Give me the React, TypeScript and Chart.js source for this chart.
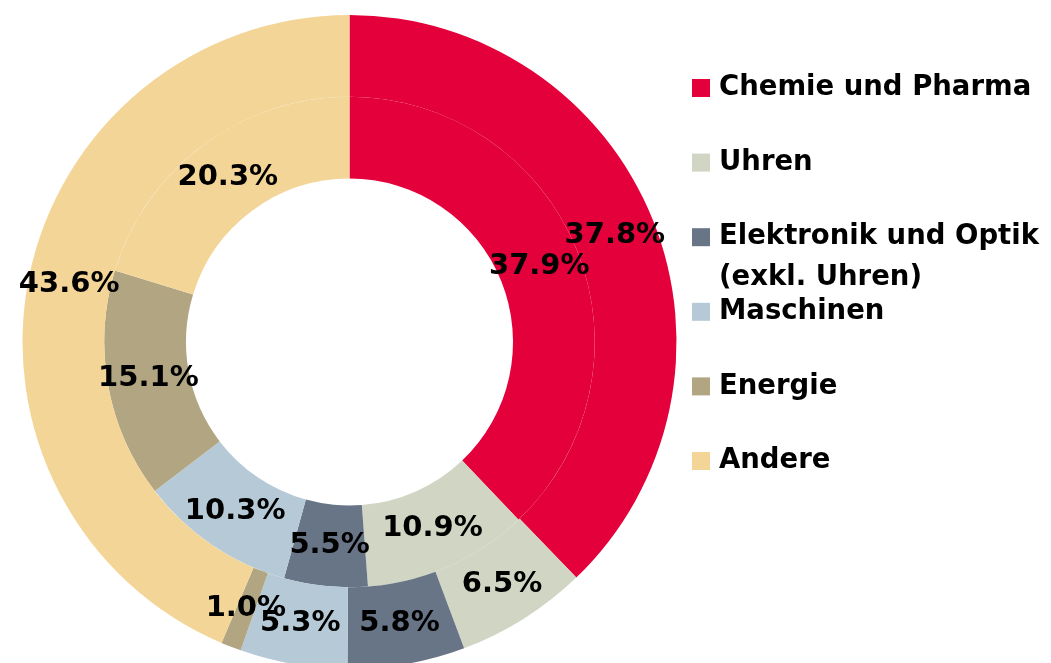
import React, { useEffect, useRef } from 'react';
import { Chart, registerables } from 'chart.js';

Chart.register(...registerables);

const categories = [
  'Chemie und Pharma',
  'Uhren',
  'Elektronik und Optik (exkl. Uhren)',
  'Maschinen',
  'Energie',
  'Andere',
];
const legendLines = [
  ['Chemie und Pharma'],
  ['Uhren'],
  ['Elektronik und Optik', '(exkl. Uhren)'],
  ['Maschinen'],
  ['Energie'],
  ['Andere'],
];
const outerValues = [37.8, 6.5, 5.8, 5.3, 1.0, 43.6];
const innerValues = [37.9, 10.9, 5.5, 10.3, 15.1, 20.3];
const colors = ['#E4003A', '#D0D6C3', '#687587', '#B5CAD6', '#B2A582', '#F3D598'];

const FONT = "'DejaVu Sans', sans-serif";

const sliceLabels = {
  id: 'sliceLabels',
  afterDatasetsDraw(chart: any) {
    const ctx = chart.ctx;
    ctx.save();
    ctx.font = `bold 29px ${FONT}`;
    ctx.fillStyle = '#000';
    ctx.textAlign = 'center';
    ctx.textBaseline = 'middle';
    chart.data.datasets.forEach((ds: any, di: number) => {
      const meta = chart.getDatasetMeta(di);
      meta.data.forEach((arc: any, i: number) => {
        const p = arc.tooltipPosition(false);
        ctx.fillText(ds.data[i].toFixed(1) + '%', p.x, p.y);
      });
    });
    ctx.restore();
  },
};

const sideLegend = {
  id: 'sideLegend',
  afterDraw(chart: any) {
    const ctx = chart.ctx;
    const area = chart.chartArea;
    const boxX = area.right + 15.5;
    const textX = boxX + 27;
    const top = area.top + 73;
    const step = 74.6;
    ctx.save();
    ctx.font = `bold 27.5px ${FONT}`;
    ctx.textAlign = 'left';
    ctx.textBaseline = 'middle';
    legendLines.forEach((lines, i) => {
      const y = top + i * step;
      ctx.fillStyle = colors[i];
      ctx.fillRect(boxX, y - 9, 18, 18);
      ctx.fillStyle = '#000';
      lines.forEach((t, li) => {
        ctx.fillText(t, textX, y + li * 41);
      });
    });
    ctx.restore();
  },
};

export default function App() {
  const ref = useRef<HTMLCanvasElement>(null);
  useEffect(() => {
    if (!ref.current) return;
    const chart = new Chart(ref.current, {
      type: 'doughnut',
      data: {
        labels: categories,
        datasets: [
          { data: outerValues, backgroundColor: colors, borderWidth: 0 },
          { data: innerValues, backgroundColor: colors, borderWidth: 0 },
        ],
      },
      options: {
        responsive: false,
        animation: false,
        cutout: '50%',
        layout: { padding: { left: 14.5, top: 7, right: 366.5, bottom: 29 } },
        plugins: {
          legend: { display: false },
          tooltip: { enabled: false },
        },
      },
      plugins: [sliceLabels, sideLegend],
    });
    return () => chart.destroy();
  }, []);
  return (
    <div
      style={{
        position: 'fixed',
        top: 8,
        left: 8,
        width: 1035,
        height: 655,
        overflow: 'hidden',
        background: '#fff',
      }}
    >
      <canvas ref={ref} width={1035} height={690} style={{ display: 'block' }} />
    </div>
  );
}
